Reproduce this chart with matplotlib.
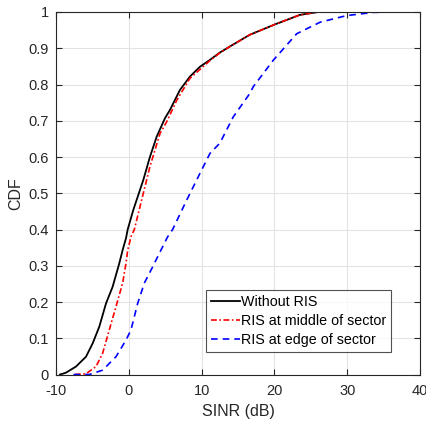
import numpy as np
import matplotlib.pyplot as plt

# --------------------------------------------------------------
# data (SINR in dB, CDF value)
# --------------------------------------------------------------
no_ris_x = [-9.45, -8.63, -7.25, -5.88, -4.96, -4.05, -3.13, -2.22, -1.3, -0.85, -0.38,
            -0.15, 0.62, 2.0, 2.9, 3.83, 4.97, 5.66, 7.03, 8.4, 9.78, 11.15, 12.5,
            13.9, 16.6, 20.1, 23.5, 26.0]
no_ris_y = [0.0, 0.005, 0.022, 0.049, 0.086, 0.132, 0.196, 0.242, 0.307, 0.343, 0.376,
            0.40, 0.454, 0.537, 0.60, 0.656, 0.707, 0.73, 0.785, 0.822, 0.849, 0.868, 0.888,
            0.905, 0.937, 0.966, 0.992, 1.0]

mid_x = [-7.4, -5.88, -4.5, -3.6, -2.68, -1.76, -0.85, -0.38, -0.15, 0.3, 0.76,
         1.54, 2.9, 4.29, 5.2, 6.6, 8.4, 9.8, 11.15, 12.5, 13.9, 16.6, 20.1, 23.5, 26.0]
mid_y = [0.0, 0.002, 0.022, 0.058, 0.123, 0.187, 0.252, 0.307, 0.343, 0.38, 0.40,
         0.463, 0.573, 0.665, 0.697, 0.757, 0.817, 0.842, 0.866, 0.887, 0.905, 0.937, 0.966, 0.992, 1.0]

edge_x = [-7.6, -5.42, -3.6, -1.76, -0.38, 0.3, 1.22, 2.13, 3.28, 4.19, 5.34, 6.02,
          7.95, 9.78, 11.15, 12.5, 14.36, 16.65, 17.1, 19.85, 23.06, 26.3, 29.9, 33.6, 36.4]
edge_y = [0.0, 0.0, 0.012, 0.049, 0.095, 0.123, 0.196, 0.252, 0.297, 0.334, 0.38, 0.40,
          0.481, 0.555, 0.61, 0.638, 0.711, 0.776, 0.794, 0.867, 0.94, 0.972, 0.99, 0.999, 1.0]

labels = ["Without RIS", "RIS at middle of sector", "RIS at edge of sector"]

# --------------------------------------------------------------
# figure
# --------------------------------------------------------------
plt.rcParams['font.family'] = ['Liberation Sans', 'DejaVu Sans']
plt.rcParams['axes.unicode_minus'] = False
fig = plt.figure(figsize=(4.27, 4.24), dpi=100)
ax = fig.add_axes([0.1311, 0.1167, 0.8525, 0.855])

ax.plot(no_ris_x, no_ris_y, color='black', lw=1.3, label=labels[0])
ax.plot(mid_x, mid_y, color='red', lw=1.2, dashes=(3.5, 1.5, 1, 1.5), label=labels[1])
ax.plot(edge_x, edge_y, color='blue', lw=1.2, dashes=(4, 3), label=labels[2])

ax.set_xlim(-10, 40)
ax.set_ylim(0, 1)
ax.set_xticks(np.arange(-10, 41, 10))
ax.set_yticks(np.arange(0, 1.01, 0.1))
ax.set_yticklabels(['0'] + [f"{v:.1f}" for v in np.arange(0.1, 0.95, 0.1)] + ['1'])
ax.grid(True, color='#e3e3e3', lw=0.8)
ax.set_axisbelow(True)
ax.tick_params(direction='in', top=True, right=True, labelsize=10.5,
               colors='#262626', length=4, width=0.8)
ax.tick_params(axis='x', pad=7)
ax.tick_params(axis='y', pad=5)
for s in ax.spines.values():
    s.set_color('#262626')
    s.set_linewidth(0.8)

ax.set_xlabel("SINR (dB)", fontsize=11.5, color='#262626', labelpad=4)
ax.set_ylabel("CDF", fontsize=11.5, color='#262626', labelpad=4)

leg = ax.legend(loc='lower right', bbox_to_anchor=(0.92, 0.063), fontsize=10.3,
                frameon=True, fancybox=False, handlelength=2.0, handletextpad=0.05,
                borderpad=0.35, labelspacing=0.35, borderaxespad=0)
leg.get_frame().set_edgecolor('#262626')
leg.get_frame().set_linewidth(0.8)

fig.savefig("out.png", dpi=100)
